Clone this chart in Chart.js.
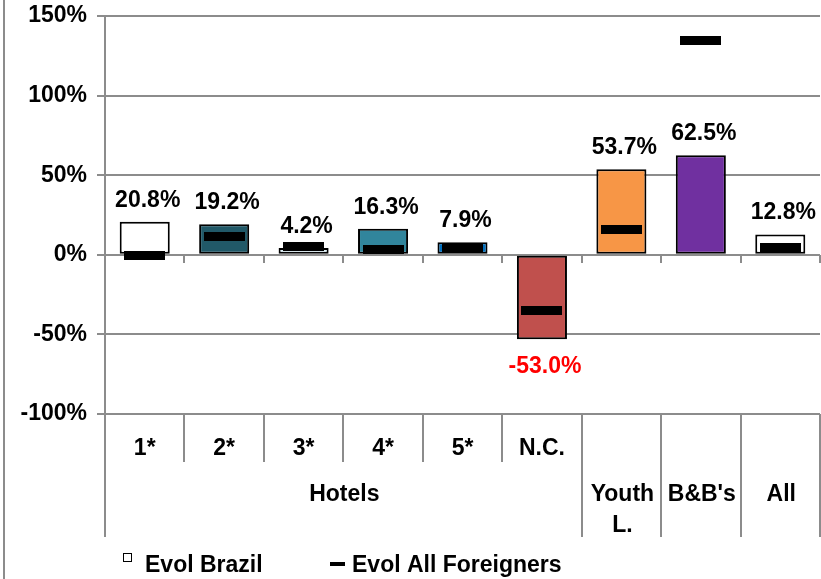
<!DOCTYPE html>
<html><head><meta charset="utf-8">
<script src="https://cdn.jsdelivr.net/npm/chart.js@4/dist/chart.umd.min.js"></script>
<style>html,body{margin:0;padding:0;background:#fff;}#wrap{width:821px;height:579px;position:relative;}</style>
</head><body><div id="wrap"><canvas id="c" width="821" height="579"></canvas></div>
<script>
const categories = ['1*','2*','3*','4*','5*','N.C.','Youth L.',"B&B's",'All'];
const subLabels = ['1*','2*','3*','4*','5*','N.C.','','',''];
const groupLabels = ['Hotels',['Youth','L.'],"B&B's",'All'];
const groupSpans = [6,1,1,1];
const evolBrazil = [20.8,19.2,4.2,16.3,7.9,-53.0,53.7,62.5,12.8];
const evolForeigners = [-0.5,11.3,4.9,3.1,4.7,-34.8,15.7,134.3,4.7];
const yTicks = [-100,-50,0,50,100,150];
const seriesNames = ['Evol Brazil','Evol All Foreigners'];
const barColors = ['#FFFFFF','#215968','#DBEEF4','#31859C','#0070C0','#C0504D','#F79646','#7030A0','#FFFFFF'];

const FAM = '"Liberation Sans", Arial, sans-serif';
const FONT = 'bold 23px ' + FAM;
const GRID = '#8c8c8c';

const decor = {
  id: 'decor',
  beforeDraw(chart) {
    const ctx = chart.ctx;
    ctx.save();
    ctx.fillStyle = '#fff';
    ctx.fillRect(0, 0, chart.width, chart.height);
    ctx.strokeStyle = GRID; ctx.lineWidth = 2;
    ctx.beginPath(); ctx.moveTo(4, 0); ctx.lineTo(4, chart.height); ctx.stroke();
    ctx.restore();
  },
  afterDatasetsDraw(chart) {
    const ctx = chart.ctx;
    const meta = chart.getDatasetMeta(0);
    ctx.save();
    ctx.font = FONT; ctx.textAlign = 'center'; ctx.textBaseline = 'alphabetic';
    meta.data.forEach((el, i) => {
      const v = evolBrazil[i];
      const txt = v.toFixed(1) + '%';
      if (v >= 0) { ctx.fillStyle = '#000'; ctx.fillText(txt, el.x + 3, el.y - 15); }
      else { ctx.fillStyle = '#FF0000'; ctx.fillText(txt, el.x + 3, el.y + 34); }
    });
    const m2 = chart.getDatasetMeta(1);
    ctx.fillStyle = '#000';
    m2.data.forEach(p => { ctx.fillRect(Math.round(p.x - 20.5), Math.round(p.y - 4.5), 41, 9); });
    ctx.restore();
  },
  afterDraw(chart) {
    const ctx = chart.ctx, x = chart.scales.x, y = chart.scales.y;
    const n = categories.length;
    const bpx = k => Math.round(x.getPixelForValue(k - 0.5));
    const groupBounds = new Set([0]);
    let acc = 0; groupSpans.forEach(s => { acc += s; groupBounds.add(acc); });
    ctx.save();
    ctx.strokeStyle = GRID; ctx.lineWidth = 2;
    const bottom = chart.chartArea.bottom;
    for (let k = 0; k <= n; k++) {
      const px = bpx(k);
      ctx.beginPath();
      ctx.moveTo(px, bottom);
      ctx.lineTo(px, groupBounds.has(k) ? bottom + 123 : bottom + 48);
      ctx.stroke();
    }
    const y0 = Math.round(y.getPixelForValue(0));
    for (let k = 1; k <= n; k++) {
      const px = bpx(k);
      ctx.beginPath(); ctx.moveTo(px, y0); ctx.lineTo(px, y0 + 8); ctx.stroke();
    }
    ctx.font = FONT; ctx.fillStyle = '#000'; ctx.textAlign = 'center'; ctx.textBaseline = 'middle';
    let s = 0;
    groupLabels.forEach((lab, g) => {
      const cx = (x.getPixelForValue(s - 0.5) + x.getPixelForValue(s + groupSpans[g] - 0.5)) / 2;
      const lines = Array.isArray(lab) ? lab : [lab];
      lines.forEach((t, i) => ctx.fillText(t, cx + 1, bottom + 81 + i * 31));
      s += groupSpans[g];
    });
    ctx.textAlign = 'left';
    ctx.fillStyle = '#fff'; ctx.fillRect(123, 553, 8, 8);
    ctx.strokeStyle = '#000'; ctx.lineWidth = 1; ctx.strokeRect(123.5, 553.5, 8, 8);
    ctx.fillStyle = '#000';
    ctx.fillText(seriesNames[0], 145, 566);
    ctx.fillRect(330, 562, 15, 4);
    ctx.fillText(seriesNames[1], 352, 566);
    ctx.restore();
  }
};

new Chart(document.getElementById('c'), {
  type: 'bar',
  data: {
    labels: subLabels,
    datasets: [
      { label: seriesNames[0], data: evolBrazil, backgroundColor: barColors, borderColor: '#000', borderWidth: 2,
        borderSkipped: false, barPercentage: 0.63, categoryPercentage: 1, order: 2 },
      { type: 'line', label: seriesNames[1], data: evolForeigners, showLine: false, pointRadius: 0,
        pointHoverRadius: 0, borderColor: '#000', backgroundColor: '#000', order: 1 }
    ]
  },
  options: {
    responsive: false, animation: false,
    layout: { padding: { left: 0, right: 1, top: 16, bottom: 0 } },
    plugins: { legend: { display: false }, tooltip: { enabled: false } },
    scales: {
      x: {
        grid: { display: false, drawTicks: false },
        border: { display: false },
        ticks: { font: { family: FAM, size: 23, weight: 'bold' }, color: '#000', padding: 21, autoSkip: false, maxRotation: 0 },
        afterFit: sc => { sc.height = 165; sc.paddingLeft = 0; sc.paddingRight = 0; }
      },
      y: {
        min: -100, max: 150,
        afterBuildTicks: sc => { sc.ticks = yTicks.map(v => ({ value: v })); },
        grid: { color: GRID, lineWidth: 2, tickLength: 8 },
        border: { color: GRID, width: 2 },
        ticks: { font: { family: FAM, size: 23, weight: 'bold' }, color: '#000', padding: 10, callback: v => v + '%' },
        afterFit: sc => { sc.width = 105; sc.paddingTop = 0; sc.paddingBottom = 0; }
      }
    }
  },
  plugins: [decor]
});
</script></body></html>
